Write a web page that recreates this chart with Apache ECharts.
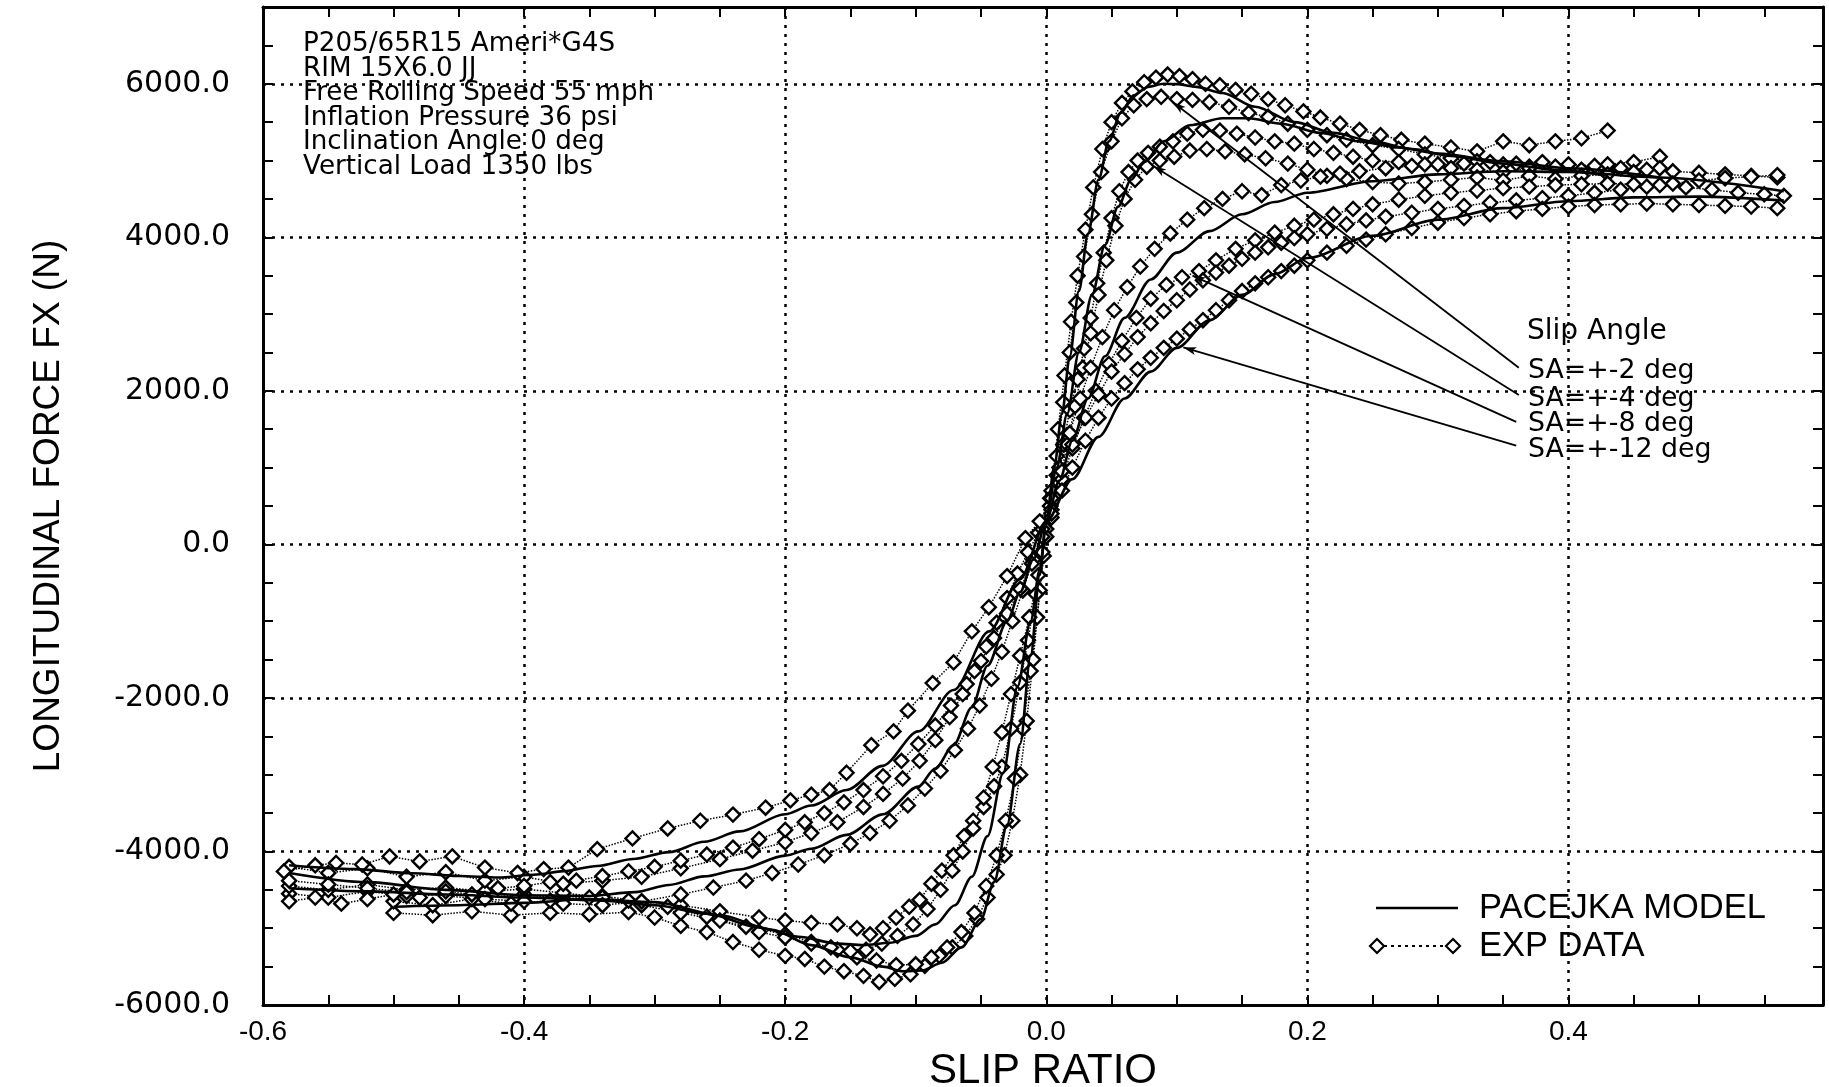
<!DOCTYPE html>
<html><head><meta charset="utf-8">
<script src="https://cdn.jsdelivr.net/npm/echarts@6/dist/echarts.min.js"></script>
<style>html,body{margin:0;padding:0;background:#fff}#c{width:1829px;height:1087px}</style>
</head><body><div id="c"></div>
<script>
// ---------------- DATA ----------------
const xTickLabels = ['-0.6','-0.4','-0.2','0.0','0.2','0.4'];
const yTickLabels = ['-6000.0','-4000.0','-2000.0','0.0','2000.0','4000.0','6000.0'];
const infoLines = ['P205/65R15 Ameri*G4S','RIM 15X6.0 JJ','Free Rolling Speed 55 mph','Inflation Pressure 36 psi','Inclination Angle 0 deg','Vertical Load 1350 lbs'];
const slipTitle = 'Slip Angle';
const slipLabels = ['SA=+-2 deg','SA=+-4 deg','SA=+-8 deg','SA=+-12 deg'];
const legendNames = ['PACEJKA MODEL','EXP DATA'];
// arrow annotations (data coordinates): tail at label, tip at curve
const arrowTails = [[0.362,2300],[0.362,1945],[0.360,1595],[0.360,1285]];
const arrowTips  = [[0.097,5760],[0.082,4930],[0.112,3500],[0.105,2565]];

// Pacejka model curves [slip ratio, Fx]
const model2 = [[-0.50,-4720],[-0.45,-4700],[-0.40,-4670],[-0.35,-4620],[-0.30,-4660],[-0.25,-4830],[-0.21,-5020],[-0.18,-5220],[-0.15,-5380],[-0.125,-5500],[-0.11,-5560],[-0.095,-5550],[-0.08,-5450],[-0.065,-5250],[-0.05,-4880],[-0.04,-4400],[-0.03,-3650],[-0.02,-2600],[-0.012,-1450],[-0.005,-400],[0,300],[0.006,1000],[0.012,1700],[0.018,2450],[0.025,3300],[0.032,4050],[0.04,4750],[0.048,5250],[0.057,5620],[0.067,5850],[0.078,5960],[0.09,6000],[0.10,5995],[0.115,5960],[0.135,5880],[0.16,5700],[0.19,5500],[0.22,5360],[0.25,5250],[0.28,5150],[0.31,5060],[0.35,4960],[0.39,4880],[0.43,4800]];
const model4 = [[-0.58,-4480],[-0.52,-4520],[-0.46,-4560],[-0.40,-4600],[-0.34,-4640],[-0.30,-4700],[-0.26,-4810],[-0.22,-4990],[-0.19,-5110],[-0.16,-5200],[-0.14,-5220],[-0.12,-5190],[-0.10,-5100],[-0.085,-4950],[-0.07,-4700],[-0.057,-4330],[-0.045,-3800],[-0.033,-2980],[-0.022,-1850],[-0.012,-1000],[-0.005,-330],[0,300],[0.008,1000],[0.016,1700],[0.025,2500],[0.035,3250],[0.045,3900],[0.055,4400],[0.065,4750],[0.075,4980],[0.09,5250],[0.11,5460],[0.135,5550],[0.155,5550],[0.18,5480],[0.21,5360],[0.24,5250],[0.27,5170],[0.30,5090],[0.35,4990],[0.40,4900],[0.47,4780]];
const model8 = [[-0.58,-4280],[-0.52,-4400],[-0.46,-4500],[-0.40,-4570],[-0.35,-4580],[-0.315,-4530],[-0.289,-4436],[-0.262,-4324],[-0.235,-4234],[-0.20,-4054],[-0.18,-3964],[-0.153,-3784],[-0.125,-3515],[-0.098,-3155],[-0.085,-2920],[-0.071,-2616],[-0.057,-2121],[-0.045,-1580],[-0.03,-1000],[-0.02,-620],[-0.01,-200],[0,300],[0.01,830],[0.02,1350],[0.032,1900],[0.045,2450],[0.06,2950],[0.08,3450],[0.10,3800],[0.125,4080],[0.15,4300],[0.175,4460],[0.20,4580],[0.25,4730],[0.30,4820],[0.35,4860],[0.40,4850],[0.47,4780],[0.565,4600]];
const model12 = [[-0.58,-4180],[-0.53,-4230],[-0.486,-4283],[-0.45,-4320],[-0.42,-4340],[-0.39,-4300],[-0.37,-4256],[-0.344,-4189],[-0.3165,-4099],[-0.289,-4009],[-0.262,-3874],[-0.235,-3739],[-0.20,-3515],[-0.18,-3402],[-0.153,-3200],[-0.1255,-2885],[-0.098,-2436],[-0.071,-1897],[-0.0437,-1133],[-0.02,-450],[0,300],[0.02,850],[0.04,1400],[0.06,1900],[0.08,2250],[0.10,2560],[0.125,2920],[0.15,3250],[0.175,3520],[0.20,3730],[0.25,4020],[0.30,4230],[0.35,4380],[0.40,4470],[0.45,4520],[0.50,4530],[0.565,4480]];

// Experimental data, two sweeps per slip angle
const exp2a = [[-0.50,-4800],[-0.47,-4830],[-0.44,-4780],[-0.41,-4830],[-0.38,-4800],[-0.35,-4820],[-0.32,-4790],[-0.30,-4860],[-0.28,-4970],[-0.26,-5050],[-0.24,-5180],[-0.22,-5280],[-0.20,-5360],[-0.185,-5400],[-0.17,-5500],[-0.155,-5560],[-0.14,-5620],[-0.128,-5700],[-0.116,-5660],[-0.104,-5600],[-0.093,-5490],[-0.082,-5360],[-0.072,-5250],[-0.062,-5100],[-0.053,-4880],[-0.045,-4600],[-0.038,-4300],[-0.032,-4050],[-0.026,-3600],[-0.02,-3000],[-0.015,-2300],[-0.01,-1500],[-0.005,-600],[0.0,200],[0.004,700],[0.009,1500],[0.014,2200],[0.019,2900],[0.024,3500],[0.03,4100],[0.036,4650],[0.043,5150],[0.05,5500],[0.058,5750],[0.066,5900],[0.075,6020],[0.084,6080],[0.093,6120],[0.102,6100],[0.112,6060],[0.122,6000],[0.133,5980],[0.145,5920],[0.157,5870],[0.17,5800],[0.183,5720],[0.197,5640],[0.21,5560],[0.225,5480],[0.24,5400],[0.256,5330],[0.272,5270],[0.29,5220],[0.31,5170],[0.33,5120],[0.35,5250],[0.37,5200],[0.39,5250],[0.41,5290],[0.43,5390]];
const exp2b = [[-0.50,-4650],[-0.47,-4700],[-0.44,-4620],[-0.41,-4680],[-0.38,-4640],[-0.35,-4600],[-0.32,-4640],[-0.29,-4720],[-0.26,-4850],[-0.23,-4980],[-0.20,-5080],[-0.18,-5180],[-0.16,-5280],[-0.145,-5380],[-0.13,-5420],[-0.115,-5480],[-0.10,-5470],[-0.088,-5380],[-0.076,-5250],[-0.065,-5050],[-0.055,-4800],[-0.046,-4450],[-0.038,-4050],[-0.031,-3600],[-0.024,-3050],[-0.018,-2400],[-0.012,-1650],[-0.007,-950],[-0.002,-150],[0.003,500],[0.008,1150],[0.013,1850],[0.018,2500],[0.023,3150],[0.029,3750],[0.035,4300],[0.042,4850],[0.05,5250],[0.058,5550],[0.067,5720],[0.077,5800],[0.088,5830],[0.10,5800],[0.112,5790],[0.125,5760],[0.14,5700],[0.155,5620],[0.17,5570],[0.185,5480],[0.20,5400],[0.215,5330],[0.23,5270],[0.25,5200],[0.27,5150],[0.29,5080],[0.31,5030],[0.33,4990],[0.35,4950],[0.37,4920],[0.39,4900],[0.41,4870],[0.43,4850]];
const exp4a = [[-0.58,-4550],[-0.55,-4600],[-0.52,-4520],[-0.49,-4580],[-0.46,-4540],[-0.43,-4600],[-0.40,-4560],[-0.37,-4620],[-0.34,-4580],[-0.31,-4650],[-0.28,-4700],[-0.25,-4780],[-0.22,-4860],[-0.20,-4900],[-0.18,-4930],[-0.16,-4950],[-0.145,-5000],[-0.135,-5080],[-0.125,-5000],[-0.115,-4860],[-0.105,-4720],[-0.097,-4630],[-0.088,-4420],[-0.08,-4250],[-0.071,-4050],[-0.063,-3800],[-0.056,-3600],[-0.048,-3420],[-0.04,-3150],[-0.034,-2900],[-0.027,-2400],[-0.02,-1800],[-0.014,-1250],[-0.008,-650],[-0.003,-100],[0.003,500],[0.008,900],[0.013,1300],[0.018,1750],[0.024,2150],[0.029,2550],[0.034,2950],[0.039,3400],[0.044,3800],[0.05,4250],[0.056,4600],[0.063,4850],[0.07,5000],[0.078,5100],[0.087,5180],[0.097,5250],[0.108,5350],[0.12,5400],[0.133,5390],[0.146,5350],[0.16,5300],[0.175,5250],[0.19,5220],[0.205,5150],[0.22,5100],[0.235,5050],[0.25,5000],[0.27,4980],[0.29,4950],[0.31,4900],[0.33,4880],[0.35,4850],[0.37,4900],[0.39,4920],[0.41,4880],[0.43,4950],[0.45,4980],[0.47,5050]];
const exp4b = [[-0.58,-4450],[-0.55,-4500],[-0.52,-4430],[-0.49,-4500],[-0.46,-4470],[-0.43,-4520],[-0.40,-4490],[-0.37,-4540],[-0.34,-4600],[-0.31,-4700],[-0.28,-4800],[-0.25,-4900],[-0.22,-5050],[-0.20,-5120],[-0.18,-5200],[-0.165,-5250],[-0.15,-5300],[-0.138,-5280],[-0.126,-5200],[-0.114,-5100],[-0.102,-4950],[-0.091,-4750],[-0.081,-4500],[-0.072,-4250],[-0.064,-4000],[-0.056,-3700],[-0.048,-3300],[-0.041,-2900],[-0.034,-2450],[-0.027,-1950],[-0.02,-1450],[-0.013,-950],[-0.006,-400],[0.0,100],[0.004,350],[0.01,800],[0.016,1300],[0.022,1800],[0.028,2300],[0.034,2750],[0.04,3250],[0.046,3700],[0.053,4150],[0.06,4500],[0.068,4750],[0.077,4920],[0.087,5000],[0.098,5050],[0.11,5130],[0.123,5150],[0.137,5120],[0.152,5080],[0.168,5030],[0.185,4960],[0.20,4880],[0.215,4800],[0.23,4760],[0.25,4720],[0.27,4700],[0.29,4720],[0.31,4750],[0.33,4780],[0.35,4740],[0.37,4800],[0.39,4760],[0.41,4800],[0.43,4820],[0.45,4850],[0.47,4900]];
const exp8a = [[-0.58,-4200],[-0.55,-4280],[-0.52,-4220],[-0.49,-4330],[-0.46,-4270],[-0.43,-4380],[-0.40,-4330],[-0.37,-4420],[-0.34,-4380],[-0.31,-4330],[-0.28,-4220],[-0.25,-4100],[-0.225,-3990],[-0.20,-3880],[-0.18,-3760],[-0.16,-3620],[-0.14,-3420],[-0.125,-3250],[-0.11,-3050],[-0.097,-2820],[-0.085,-2550],[-0.074,-2250],[-0.064,-1950],[-0.055,-1650],[-0.046,-1330],[-0.038,-1020],[-0.03,-700],[-0.022,-380],[-0.014,-100],[-0.006,150],[0.003,600],[0.01,1000],[0.018,1450],[0.026,1900],[0.034,2300],[0.043,2700],[0.052,3050],[0.062,3350],[0.072,3620],[0.083,3850],[0.095,4050],[0.108,4230],[0.121,4380],[0.135,4500],[0.15,4600],[0.165,4550],[0.18,4680],[0.195,4740],[0.21,4790],[0.225,4830],[0.24,4860],[0.26,4900],[0.28,4930],[0.30,4950],[0.32,4960],[0.34,4980],[0.36,4960],[0.38,4980],[0.40,4950],[0.42,4930],[0.44,4900],[0.46,4880],[0.48,4860],[0.50,4840],[0.52,4820],[0.54,4800],[0.56,4780]];
const exp8b = [[-0.58,-4380],[-0.55,-4430],[-0.52,-4480],[-0.49,-4530],[-0.46,-4580],[-0.43,-4620],[-0.40,-4650],[-0.37,-4680],[-0.34,-4700],[-0.31,-4650],[-0.28,-4560],[-0.255,-4470],[-0.23,-4380],[-0.21,-4280],[-0.19,-4170],[-0.17,-4050],[-0.15,-3900],[-0.135,-3760],[-0.12,-3600],[-0.106,-3400],[-0.093,-3180],[-0.081,-2950],[-0.07,-2680],[-0.06,-2400],[-0.051,-2100],[-0.042,-1750],[-0.034,-1400],[-0.026,-1000],[-0.018,-600],[-0.01,-200],[-0.003,200],[0.004,450],[0.012,850],[0.02,1250],[0.029,1650],[0.038,2000],[0.048,2350],[0.058,2650],[0.069,2950],[0.08,3200],[0.092,3380],[0.104,3480],[0.117,3560],[0.13,3700],[0.145,3850],[0.16,3960],[0.175,4060],[0.19,4150],[0.205,4230],[0.22,4300],[0.235,4370],[0.25,4430],[0.27,4490],[0.29,4540],[0.31,4580],[0.33,4610],[0.35,4640],[0.37,4660],[0.39,4680],[0.41,4690],[0.43,4700],[0.45,4690],[0.47,4680],[0.49,4650],[0.51,4620],[0.53,4580],[0.55,4560],[0.565,4540]];
const exp12a = [[-0.584,-4260],[-0.56,-4180],[-0.544,-4150],[-0.524,-4170],[-0.503,-4065],[-0.48,-4130],[-0.455,-4065],[-0.43,-4210],[-0.405,-4280],[-0.385,-4230],[-0.366,-4210],[-0.344,-3970],[-0.317,-3830],[-0.29,-3700],[-0.265,-3600],[-0.24,-3520],[-0.215,-3430],[-0.196,-3335],[-0.18,-3260],[-0.166,-3200],[-0.153,-2975],[-0.134,-2616],[-0.117,-2436],[-0.106,-2166],[-0.087,-1807],[-0.071,-1537],[-0.057,-1133],[-0.044,-818],[-0.03,-413],[-0.016,81],[-0.005,300],[0.004,600],[0.012,950],[0.02,1300],[0.03,1650],[0.04,1950],[0.05,2250],[0.06,2480],[0.07,2700],[0.08,2880],[0.09,3040],[0.10,3180],[0.11,3320],[0.12,3440],[0.13,3540],[0.14,3630],[0.15,3720],[0.16,3800],[0.17,3870],[0.18,3930],[0.19,3990],[0.20,4040],[0.215,4110],[0.23,4170],[0.245,4220],[0.26,4270],[0.28,4320],[0.30,4370],[0.32,4410],[0.34,4450],[0.36,4480],[0.38,4510],[0.40,4540],[0.42,4580],[0.44,4620],[0.46,4660],[0.48,4700],[0.50,4740],[0.52,4770],[0.54,4790],[0.56,4810]];
const exp12b = [[-0.58,-4650],[-0.56,-4600],[-0.54,-4680],[-0.52,-4620],[-0.50,-4560],[-0.48,-4600],[-0.46,-4520],[-0.44,-4560],[-0.42,-4480],[-0.40,-4450],[-0.38,-4400],[-0.36,-4380],[-0.34,-4320],[-0.32,-4260],[-0.30,-4200],[-0.28,-4120],[-0.26,-4040],[-0.24,-3950],[-0.22,-3840],[-0.20,-3720],[-0.185,-3620],[-0.17,-3500],[-0.155,-3360],[-0.14,-3200],[-0.125,-3020],[-0.111,-2820],[-0.098,-2600],[-0.085,-2360],[-0.073,-2100],[-0.061,-1820],[-0.05,-1520],[-0.04,-1220],[-0.03,-900],[-0.02,-580],[-0.011,-250],[-0.003,100],[0.004,400],[0.012,700],[0.02,1000],[0.03,1350],[0.04,1650],[0.05,1900],[0.06,2100],[0.07,2280],[0.08,2430],[0.09,2560],[0.10,2680],[0.11,2800],[0.12,2920],[0.13,3050],[0.14,3180],[0.15,3300],[0.16,3400],[0.17,3480],[0.18,3560],[0.19,3630],[0.20,3700],[0.215,3800],[0.23,3890],[0.245,3970],[0.26,4040],[0.28,4120],[0.30,4190],[0.32,4250],[0.34,4300],[0.36,4340],[0.38,4370],[0.40,4400],[0.42,4420],[0.44,4430],[0.46,4440],[0.48,4430],[0.50,4420],[0.52,4410],[0.54,4400],[0.56,4380]];

// ---------------- CHART ----------------
const SANS = '"Liberation Sans", Arial, Helvetica, sans-serif';
const WIDE = '"DejaVu Sans", sans-serif';
const XMIN = -0.6, XMAX = 0.595, YMIN = -6000, YMAX = 7000;

const fmt = v => (Math.abs(v) < 1e-9 ? 0 : v).toFixed(1);
const xLabel = v => { const t = fmt(v); return xTickLabels.includes(t) ? t : ''; };
const yLabel = v => { const t = fmt(v); return yTickLabels.includes(t) ? t : ''; };

const gridDots = { color: '#000', width: 2.5, type: [3, 6] };
const tickAxis = (pos, min, max, interval, showLine) => ({
  type: 'value', min, max, interval, position: pos,
  axisLine: { show: showLine, onZero: false, lineStyle: { color: '#000', width: 3 } },
  axisTick: { show: true, inside: true, length: 10, lineStyle: { color: '#000', width: 2 } },
  axisLabel: { show: false }, splitLine: { show: false }
});

const expSets = [exp2a, exp2b, exp4a, exp4b, exp8a, exp8b, exp12a, exp12b];
const modelSets = [model2, model4, model8, model12];

const series = [];
expSets.forEach(d => series.push({
  type: 'line', name: legendNames[1], data: d, xAxisIndex: 0, yAxisIndex: 0,
  symbol: 'diamond', symbolSize: 14, showAllSymbol: true, silent: true, z: 2,
  itemStyle: { color: '#fff', borderColor: '#000', borderWidth: 2.4 },
  lineStyle: { color: '#000', width: 1.5, type: 'dotted' }
}));
modelSets.forEach((d, i) => {
  const s = {
    type: 'line', name: legendNames[0], data: d, xAxisIndex: 0, yAxisIndex: 0,
    symbol: 'none', smooth: 0.3, smoothMonotone: 'x', silent: true, z: 4,
    itemStyle: { color: '#000' },
    lineStyle: { color: '#000', width: 2.6 }
  };
  if (i === 0) {
    s.markLine = {
      silent: true, symbol: ['none', 'arrow'], symbolSize: [6, 13],
      lineStyle: { color: '#000', width: 1.8, type: 'solid' },
      label: { show: false },
      data: arrowTails.map((t, k) => [{ coord: t }, { coord: arrowTips[k] }])
    };
  }
  series.push(s);
});

const txt = (t, x, y, font) => ({
  type: 'text', x, y, silent: true, z: 10,
  style: { text: t, font, fill: '#000', align: 'left', verticalAlign: 'middle', textVerticalAlign: 'middle' }
});
const graphic = [];
const infoY = [44, 69, 93, 118, 142, 167];
infoLines.forEach((t, i) => graphic.push(txt(t, 303, infoY[i], '26.2px ' + WIDE)));
graphic.push(txt(slipTitle, 1527, 332, '28px ' + WIDE));
const slipY = [371, 399, 424, 450];
slipLabels.forEach((t, i) => graphic.push(txt(t, 1528, slipY[i], '26.8px ' + WIDE)));

// legend (drawn as graphic to match the original key: solid line / diamond...diamond)
const diamond = (cx, cy) => ({
  type: 'polygon', silent: true, z: 10,
  shape: { points: [[cx, cy - 7], [cx + 7, cy], [cx, cy + 7], [cx - 7, cy]] },
  style: { fill: '#fff', stroke: '#000', lineWidth: 2.2 }
});
graphic.push({ type: 'line', silent: true, z: 10, shape: { x1: 1376, y1: 908, x2: 1458, y2: 908 }, style: { stroke: '#000', lineWidth: 2.4 } });
graphic.push(txt(legendNames[0], 1479, 908, '34.5px ' + SANS));
graphic.push({ type: 'line', silent: true, z: 10, shape: { x1: 1384, y1: 946, x2: 1446, y2: 946 }, style: { stroke: '#000', lineWidth: 2, lineDash: [3, 4] } });
graphic.push(diamond(1377, 946));
graphic.push(diamond(1453, 946));
graphic.push(txt(legendNames[1], 1479, 946, '34.5px ' + SANS));

const option = {
  animation: false,
  backgroundColor: '#fff',
  textStyle: { fontFamily: SANS, color: '#000' },
  grid: { left: 263, right: 6, top: 7, bottom: 82, containLabel: false, outerBoundsMode: 'none' },
  xAxis: [
    {
      type: 'value', min: XMIN, max: XMAX, interval: 0.2, position: 'bottom',
      axisLine: { show: true, onZero: false, lineStyle: { color: '#000', width: 3 } },
      axisTick: { show: false },
      axisLabel: { show: true, showMaxLabel: false, formatter: xLabel, color: '#000', fontSize: 28, fontFamily: SANS, margin: 13 },
      splitLine: { show: true, showMinLine: false, showMaxLine: false, lineStyle: gridDots },
      name: 'SLIP RATIO', nameLocation: 'middle', nameGap: 38,
      nameTextStyle: { fontSize: 42, fontFamily: SANS, color: '#000' }
    },
    tickAxis('bottom', XMIN, XMAX, 0.05, false),
    tickAxis('top', XMIN, XMAX, 0.05, true)
  ],
  yAxis: [
    {
      type: 'value', min: YMIN, max: YMAX, interval: 2000, position: 'left',
      axisLine: { show: true, onZero: false, lineStyle: { color: '#000', width: 3 } },
      axisTick: { show: false },
      axisLabel: { show: true, showMaxLabel: false, formatter: yLabel, color: '#000', fontSize: 30, fontFamily: WIDE, margin: 33 },
      splitLine: { show: true, showMinLine: false, showMaxLine: false, lineStyle: gridDots },
      name: 'LONGITUDINAL FORCE FX (N)', nameLocation: 'middle', nameGap: 196,
      nameTextStyle: { fontSize: 37, fontFamily: SANS, color: '#000' }
    },
    tickAxis('left', YMIN, YMAX, 500, false),
    tickAxis('right', YMIN, YMAX, 500, true)
  ],
  graphic,
  series
};

const chart = echarts.init(document.getElementById('c'), null, { renderer: 'canvas' });
chart.setOption(option);
</script></body></html>
